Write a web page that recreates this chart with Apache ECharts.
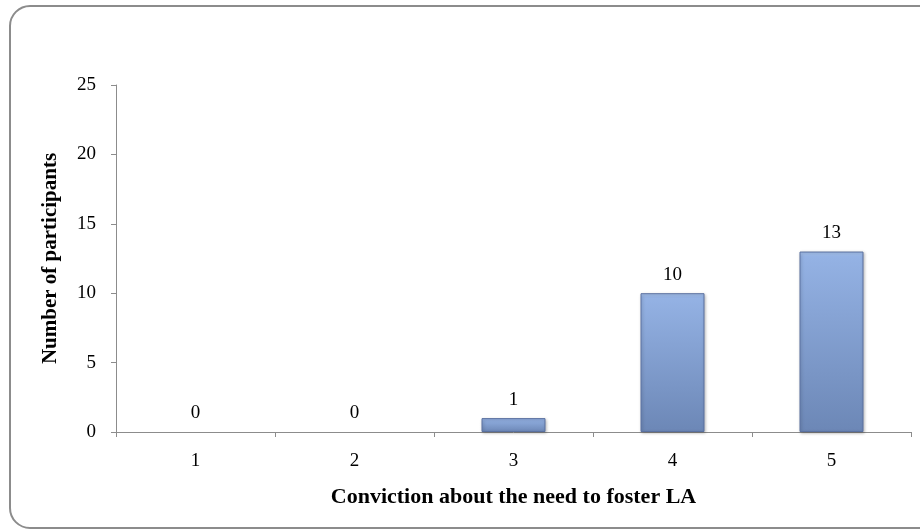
<!DOCTYPE html>
<html>
<head>
<meta charset="utf-8">
<script src="https://cdn.jsdelivr.net/npm/echarts@6/dist/echarts.min.js"></script>
<style>
  html, body { margin: 0; padding: 0; background: #fff; }
  #chart { width: 920px; height: 529px; }
</style>
</head>
<body>
<div id="chart"></div>
<script>
// Survey responses: conviction rating (1-5) vs participant count
const categories = ['1', '2', '3', '4', '5'];
const participants = [0, 0, 1, 10, 13];
const yTicks = { min: 0, max: 25, interval: 5 };

const serif = '"Liberation Serif", "Times New Roman", serif';
const axisGray = '#8c8c8c';

const barStyle = {
  color: new echarts.graphic.LinearGradient(0, 0, 0, 1, [
    { offset: 0, color: '#a9c4ef' },
    { offset: 0.03, color: '#94b2e4' },
    { offset: 1, color: '#6c87b6' }
  ]),
  borderColor: '#5a71a0',
  borderWidth: 1,
  shadowColor: 'rgba(0,0,0,0.25)',
  shadowBlur: 3,
  shadowOffsetX: 1,
  shadowOffsetY: 1
};

// zero-count bars have no visible body, only their value label
const barData = participants.map(v => v === 0
  ? { value: v, itemStyle: { borderWidth: 0, shadowBlur: 0, shadowColor: 'transparent', opacity: 0 } }
  : { value: v });

const chart = echarts.init(document.getElementById('chart'));
chart.setOption({
  animation: false,
  backgroundColor: '#fff',
  graphic: [{
    type: 'rect',
    shape: { x: 10, y: 6, width: 940, height: 522, r: 20 },
    style: { fill: 'none', stroke: '#8c8c8c', lineWidth: 2 },
    z: 0
  }],
  grid: { left: 116, top: 85, right: 9, bottom: 97, containLabel: false },
  xAxis: {
    type: 'category',
    data: categories,
    name: 'Conviction about the need to foster LA',
    nameLocation: 'middle',
    nameGap: 54,
    nameTextStyle: { fontFamily: serif, fontSize: 22, fontWeight: 'bold', color: '#000' },
    axisLine: { lineStyle: { color: axisGray, width: 1 } },
    axisTick: { show: true, alignWithLabel: false, length: 5, lineStyle: { color: axisGray } },
    axisLabel: { fontFamily: serif, fontSize: 19, color: '#000', margin: 20 },
    splitLine: { show: false }
  },
  yAxis: {
    type: 'value',
    min: yTicks.min,
    max: yTicks.max,
    interval: yTicks.interval,
    name: 'Number of participants',
    nameLocation: 'middle',
    nameGap: 55,
    nameTextStyle: { fontFamily: serif, fontSize: 21, fontWeight: 'bold', color: '#000' },
    axisLine: { show: true, lineStyle: { color: axisGray, width: 1 } },
    axisTick: { show: true, length: 5, lineStyle: { color: axisGray } },
    axisLabel: { fontFamily: serif, fontSize: 19, color: '#000', margin: 20 },
    splitLine: { show: false }
  },
  series: [{
    type: 'bar',
    data: barData,
    barWidth: 64,
    itemStyle: barStyle,
    label: {
      show: true,
      position: 'top',
      distance: 9,
      fontFamily: serif,
      fontSize: 19,
      color: '#000',
      opacity: 1
    }
  }]
});
</script>
</body>
</html>
